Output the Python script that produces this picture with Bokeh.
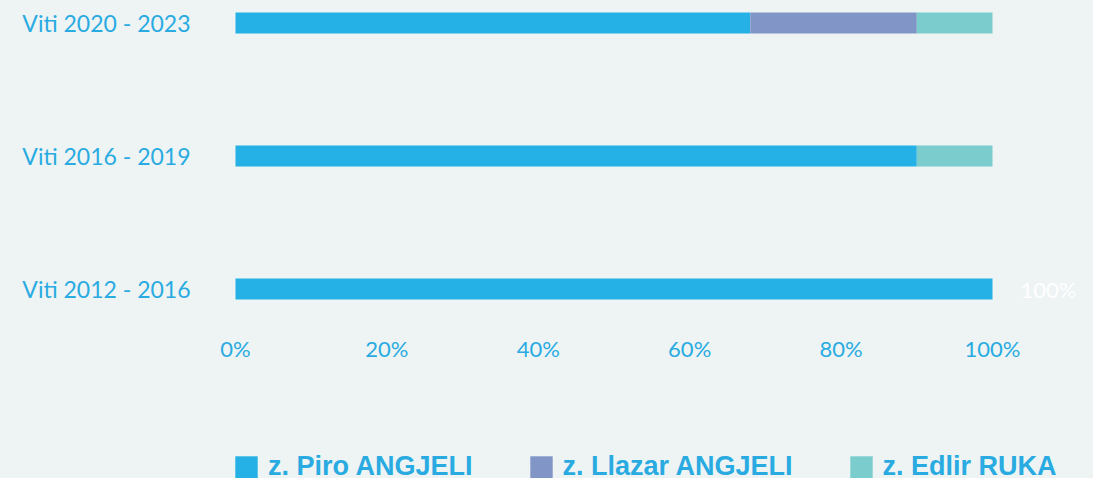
from bokeh.plotting import figure
from bokeh.models import Range1d, FixedTicker, Legend, LegendItem, ColumnDataSource
from bokeh.embed import file_html
from bokeh.resources import INLINE
from bokeh.core.properties import value

categories = ["Viti 2012 - 2016", "Viti 2016 - 2019", "Viti 2020 - 2023"]
series = ["z. Piro ANGJELI", "z. Llazar ANGJELI", "z. Edlir RUKA"]
piro = [100, 90, 68]
llazar = [0, 0, 22]
edlir = [0, 10, 10]
colors = ["#25B0E6", "#8195C7", "#7BCCCC"]
x_ticks = [0, 20, 40, 60, 80, 100]
x_tick_labels = ["0%", "20%", "40%", "60%", "80%", "100%"]

TEXT_BLUE = "#29ABE2"
BG = "#EEF4F4"
FONT = "Lato"

ys = list(range(len(categories)))
src = ColumnDataSource(dict(y=ys, piro=piro, llazar=llazar, edlir=edlir))

# layout constants (pixels)
FRAME_LEFT = 200
BAR_LEFT = 235
BAR_RIGHT = 992
W, H = 1093, 478
XPX = (BAR_RIGHT - BAR_LEFT) / 100.0
YPX = 133.0
y_top = 2 + 22.5 / YPX
y_bottom = y_top - H / YPX
axis_y = y_top - 311 / YPX

p = figure(width=W, height=H, output_backend="svg", toolbar_location=None,
           x_range=Range1d(-(BAR_LEFT - FRAME_LEFT) / XPX, (W - BAR_LEFT) / XPX),
           y_range=Range1d(y_bottom, y_top),
           min_border_left=FRAME_LEFT, min_border_right=0, min_border_top=0, min_border_bottom=0)
p.background_fill_color = BG
p.border_fill_color = BG
p.styles = {"background-color": BG}
p.outline_line_color = None
p.xgrid.grid_line_color = None
p.ygrid.grid_line_color = None

renderers = p.hbar_stack(["piro", "llazar", "edlir"], y="y", height=0.158,
                         color=colors, source=src, line_color=None)

for ax in (p.xaxis[0], p.yaxis[0]):
    ax.axis_line_color = None
    ax.major_tick_line_color = None
    ax.minor_tick_line_color = None
    ax.major_tick_out = 0
    ax.major_tick_in = 0
    ax.major_label_text_color = TEXT_BLUE
    ax.major_label_text_font = FONT

p.xaxis.ticker = FixedTicker(ticks=x_ticks)
p.xaxis.major_label_overrides = {t: l for t, l in zip(x_ticks, x_tick_labels)}
p.xaxis.major_label_standoff = 23
p.xaxis.major_label_text_font_size = "22px"
p.xaxis.fixed_location = axis_y
p.yaxis.ticker = FixedTicker(ticks=ys)
p.yaxis.major_label_overrides = {i: c for i, c in zip(ys, categories)}
p.yaxis.major_label_standoff = 10
p.yaxis.major_label_text_font_size = "23px"

total0 = piro[0] + llazar[0] + edlir[0]
p.text(x=[total0], y=[ys[0]], text=[f"{total0}%"], x_offset=28,
       text_baseline="middle", text_align="left", text_color="white",
       text_font=value(FONT), text_font_size="22px")

legend = Legend(items=[LegendItem(label=s, renderers=[r]) for s, r in zip(series, renderers)],
                orientation="horizontal", location=(BAR_LEFT - FRAME_LEFT - 3, -4),
                padding=0, margin=0, spacing=54, glyph_width=28, glyph_height=28,
                label_standoff=8, label_height=22, label_text_font="Liberation Sans",
                label_text_font_style="bold", label_text_font_size="27px",
                label_text_color=TEXT_BLUE, background_fill_alpha=0,
                border_line_color=None)
p.add_layout(legend, "center")

open("out.html", "w").write(file_html(p, INLINE))
